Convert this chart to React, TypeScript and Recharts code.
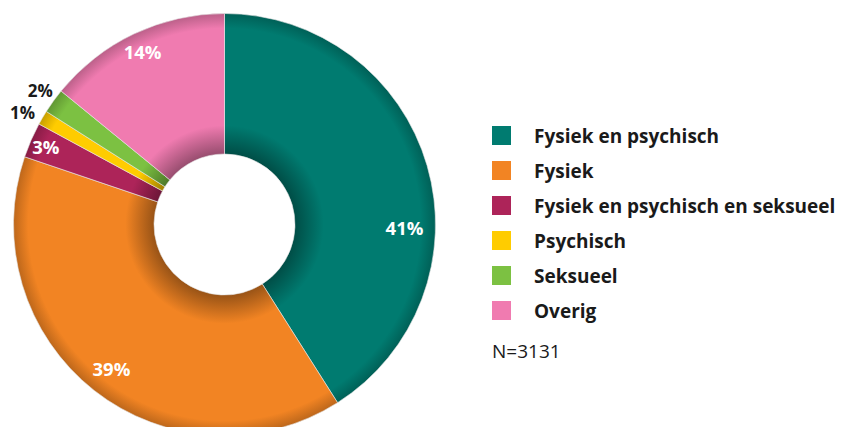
import React from 'react';
import { PieChart, Pie, Cell, Legend } from 'recharts';

const categories = [
  'Fysiek en psychisch',
  'Fysiek',
  'Fysiek en psychisch en seksueel',
  'Psychisch',
  'Seksueel',
  'Overig',
];
const shares = [41, 39.2, 2.7, 1.1, 1.9, 14.1];
const shareLabels = ['41%', '39%', '3%', '1%', '2%', '14%'];
const colors = ['#007b70', '#f28423', '#ad2459', '#ffcc00', '#7cc142', '#f07bb0'];
const totalLabel = 'N=3131';

const data = categories.map((name, i) => ({ name, value: shares[i], label: shareLabels[i] }));

const FONT = '"Open Sans", "Noto Sans", sans-serif';
const RAD = Math.PI / 180;
const CX = 224.5;
const CY = 224.5;
const OUTER = 211;
const INNER = 70.5;

// mix a hex colour with black
function shade(hex: string, amt: number) {
  const n = parseInt(hex.slice(1), 16);
  const r = Math.round(((n >> 16) & 255) * (1 - amt));
  const g = Math.round(((n >> 8) & 255) * (1 - amt));
  const b = Math.round((n & 255) * (1 - amt));
  return `rgb(${r},${g},${b})`;
}

// small per-slice tweaks (angle shift, radius) so the labels sit where the original has them
const labelTweak: Record<number, [number, number]> = {
  0: [-17, 180],
  1: [0, 183],
  2: [0, 195],
  3: [1.4, 231],
  4: [-0.3, 228],
  5: [0, 191],
};

const renderLabel = (props: any) => {
  const { cx, cy, midAngle, index } = props;
  const [da, r] = labelTweak[index] || [0, 188];
  const a = (midAngle + da) * RAD;
  const x = cx + r * Math.cos(a);
  const y = cy - r * Math.sin(a);
  const outside = index === 3 || index === 4;
  return (
    <text
      x={x}
      y={y}
      textAnchor="middle"
      dominantBaseline="central"
      fill={outside ? '#1a1a1a' : '#ffffff'}
      fontFamily={FONT}
      fontWeight={700}
      fontSize={outside ? 17 : 18.5}
    >
      {shareLabels[index]}
    </text>
  );
};

const renderLegend = () => (
  <div style={{ fontFamily: FONT, fontSize: 19, color: '#1a1a1a' }}>
    {categories.map((c, i) => (
      <div key={c} style={{ display: 'flex', alignItems: 'center', height: 35 }}>
        <span
          style={{ display: 'inline-block', width: 19, height: 19, background: colors[i], marginRight: 23 }}
        />
        <span style={{ fontWeight: 700, whiteSpace: 'nowrap' }}>{c}</span>
      </div>
    ))}
    <div style={{ marginTop: 10, fontWeight: 400 }}>{totalLabel}</div>
  </div>
);

export default function App() {
  return (
    <div style={{ position: 'absolute', left: 0, top: 0, width: 841, height: 427, background: '#fff' }}>
      <PieChart width={841} height={427} margin={{ top: 0, right: 0, bottom: 0, left: 0 }}>
        <defs>
          {colors.map((c, i) => (
            <radialGradient
              key={c}
              id={`shade-${i}`}
              gradientUnits="userSpaceOnUse"
              cx={CX}
              cy={CY}
              r={OUTER}
            >
              <stop offset="0.33" stopColor={shade(c, 0.38)} />
              <stop offset="0.47" stopColor={c} />
              <stop offset="0.93" stopColor={c} />
              <stop offset="1" stopColor={shade(c, 0.22)} />
            </radialGradient>
          ))}
        </defs>
        <Pie
          data={data}
          dataKey="value"
          nameKey="name"
          cx={CX}
          cy={CY}
          innerRadius={INNER}
          outerRadius={OUTER}
          startAngle={90}
          endAngle={-270}
          stroke="#e6e6e6"
          strokeWidth={0.6}
          label={renderLabel}
          labelLine={false}
          isAnimationActive={false}
        >
          {data.map((d, i) => (
            <Cell key={d.name} fill={`url(#shade-${i})`} />
          ))}
        </Pie>
        <Legend
          content={renderLegend}
          layout="vertical"
          verticalAlign="middle"
          align="right"
          wrapperStyle={{ position: 'absolute', left: 492, top: 118, width: 349, right: 'auto' }}
        />
      </PieChart>
    </div>
  );
}
